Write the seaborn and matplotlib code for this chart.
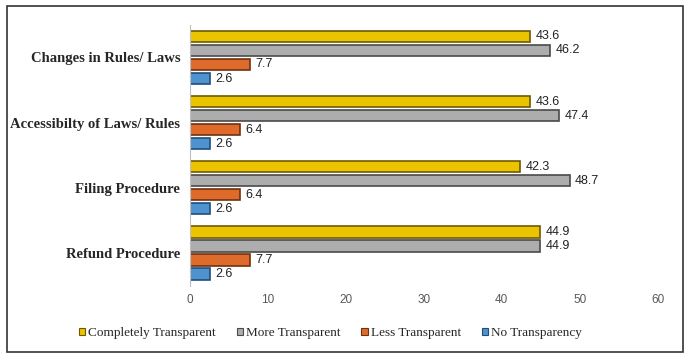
import matplotlib
matplotlib.use("Agg")
from matplotlib import pyplot as plt
from matplotlib.patches import Rectangle
import seaborn as sns
import pandas as pd

categories = ["Changes in Rules/ Laws", "Accessibilty of Laws/ Rules",
              "Filing Procedure", "Refund Procedure"]
series = ["Completely Transparent", "More Transparent",
          "Less Transparent", "No Transparency"]
completely = [43.6, 43.6, 42.3, 44.9]
more = [46.2, 47.4, 48.7, 44.9]
less = [7.7, 6.4, 6.4, 7.7]
no_transp = [2.6, 2.6, 2.6, 2.6]
ticks = [0, 10, 20, 30, 40, 50, 60]

colors = ["#EAC400", "#ADADAD", "#DE6B2C", "#4F92D0"]
edges = ["#6E5A00", "#4A4A4A", "#6E3210", "#1F4E7A"]

rows = []
for s, vals in zip(series, [completely, more, less, no_transp]):
    for c, v in zip(categories, vals):
        rows.append({"cat": c, "series": s, "val": v})
df = pd.DataFrame(rows)

sns.set_theme(style="white")
plt.rcParams['font.family'] = ['Liberation Sans', 'DejaVu Sans']

fig = plt.figure(figsize=(6.88, 3.61), dpi=100)
ax = fig.add_axes([0.276, 0.209, 0.68, 0.722])

sns.barplot(data=df, y="cat", x="val", hue="series", orient="h",
            palette=colors, saturation=1, width=0.86, gap=0.2, ax=ax,
            legend=False)

for i, cont in enumerate(ax.containers):
    for bar in cont:
        bar.set_edgecolor(edges[i])
        bar.set_linewidth(1.2)
    ax.bar_label(cont, fmt="%.1f", padding=4, fontsize=9, color="#222222")

ax.set_xlim(0, 60)
ax.set_xticks(ticks)
ax.set_xlabel("")
ax.set_ylabel("")
ax.tick_params(axis="x", colors="#595959", labelsize=8.5, length=0, pad=6)
ax.tick_params(axis="y", length=0, pad=7)
for lab in ax.get_yticklabels():
    lab.set_fontfamily("Liberation Serif")
    lab.set_fontweight("bold")
    lab.set_fontsize(10.5)
for side in ["top", "right", "bottom"]:
    ax.spines[side].set_visible(False)
ax.spines["left"].set_color("#BFBFBF")
ax.spines["left"].set_linewidth(0.8)

handles = [Rectangle((0, 0), 1, 1, facecolor=c, edgecolor=e, linewidth=0.8)
           for c, e in zip(colors, edges)]
fig.legend(handles, series, loc="center", bbox_to_anchor=(0.48, 0.077),
           ncol=4, frameon=False, handlelength=0.5, handleheight=0.5,
           handletextpad=0.2, columnspacing=1.6,
           prop={"family": "Liberation Serif", "size": 9.5})

fig.patches.append(Rectangle((0.010, 0.025), 0.983, 0.958, transform=fig.transFigure,
                             fill=False, edgecolor="#333333", linewidth=1.2))

plt.savefig("out.png", dpi=100)
